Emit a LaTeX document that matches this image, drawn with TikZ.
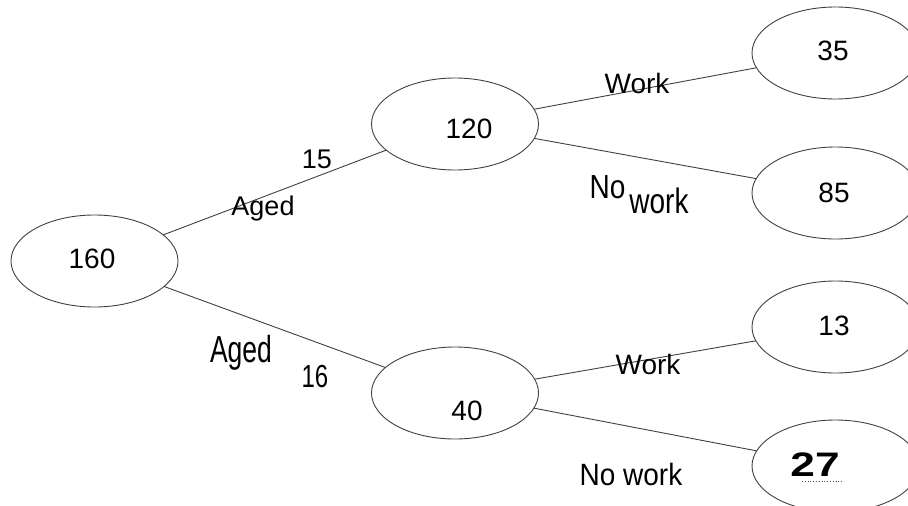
\documentclass[tikz,border=0pt]{standalone}
\usepackage{fontspec}
\usepackage{graphicx}
\setmainfont{Liberation Sans}
\usetikzlibrary{shapes.geometric}
\begin{document}
\begin{tikzpicture}[x=1pt,y=-1pt,
  ell/.style={draw=black!75, line width=0.9pt, ellipse, minimum width=167pt, minimum height=92pt, inner sep=0pt, outer sep=0pt},
  conn/.style={draw=black!75, line width=0.9pt},
  txt/.style={anchor=base, inner sep=0pt, font=\fontsize{28}{32}\selectfont},
  lbl/.style={anchor=base, inner sep=0pt, font=\fontsize{27}{32}\selectfont}]
\useasboundingbox (0,0) rectangle (908,506);
\clip (0,0) rectangle (908,506);
% ellipses
\node[ell] (n160) at (94.5,261) {};
\node[ell] (n120) at (455,124) {};
\node[ell] (n40)  at (455,393) {};
\node[ell] (n35)  at (835.5,53) {};
\node[ell] (n85)  at (835.5,193) {};
\node[ell] (n13)  at (835.5,327) {};
\node[ell] (n27)  at (835.5,466) {};
% connectors
\draw[conn] (n160) -- (n120);
\draw[conn] (n160) -- (n40);
\draw[conn] (n120) -- (n35);
\draw[conn] (n120) -- (n85);
\draw[conn] (n40) -- (n13);
\draw[conn] (n40) -- (n27);
% numbers
\node[txt] (t160) at (92,268) {160};
\node[txt] (t120) at (469,138) {120};
\node[txt] (t40)  at (467,420) {40};
\node[txt] (t35)  at (833,60) {35};
\node[txt] (t85)  at (834,202) {85};
\node[txt] (t13)  at (834,335) {13};
\node[anchor=base, inner sep=0pt, font=\fontsize{34}{38}\selectfont\bfseries] (t27) at (815,476) {\scalebox{1.3}[1]{27}};
\draw[black!70, line width=0.8pt, dotted] (802,481) -- (842,481);
% branch labels
\node[lbl] (l15) at (317,168) {15};
\node[lbl] (lAgedA) at (263,215) {Aged};
\node[lbl, font=\fontsize{26.5}{32}\selectfont] (lAgedB) at (241,362) {\scalebox{1}[1.42]{Aged}};
\node[lbl, font=\fontsize{24}{32}\selectfont] (l16) at (315,387) {\scalebox{1}[1.33]{16}};
\node[txt] (lWorkA) at (637,93) {Work};
\node[txt] (lNo) at (607.5,198) {\scalebox{1}[1.19]{No}};
\node[txt] (lwork) at (659,213) {\scalebox{1}[1.26]{work}};
\node[txt] (lWorkB) at (648,374) {Work};
\node[txt] (lNoWork) at (631,485) {\scalebox{1}[1.1]{No work}};
\end{tikzpicture}
\end{document}
